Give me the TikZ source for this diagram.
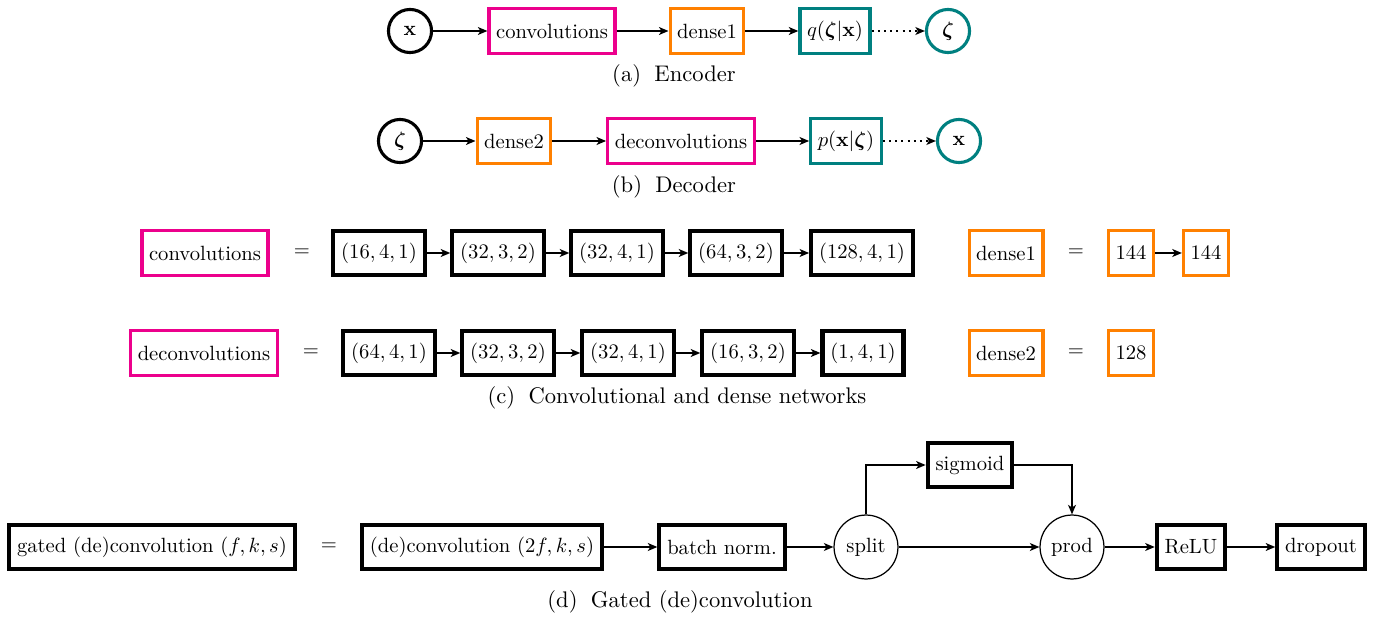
\documentclass[tikz,border=0pt]{standalone}
\usepackage{bm}
\usetikzlibrary{arrows.meta}
\definecolor{pinkc}{RGB}{236,0,140}
\definecolor{orangec}{RGB}{255,128,0}
\definecolor{tealc}{RGB}{0,128,128}
\begin{document}
\begin{tikzpicture}[x=0.485pt,y=-0.485pt,
  box/.style={draw, line width=2pt, minimum height=21.3pt, inner xsep=3.8pt, inner ysep=0pt},
  cbox/.style={draw=#1, line width=1.6pt, minimum height=21.7pt, inner xsep=3.4pt, inner ysep=0pt},
  circ/.style={circle, draw, line width=1.5pt, minimum size=20.9pt, inner sep=0pt},
  rnd/.style={circle, draw, line width=0.6pt, minimum size=31pt, inner sep=0pt},
  arr/.style={-{Stealth[length=4.6pt,width=3.8pt,inset=1.2pt]}, line width=1pt},
  darr/.style={arr, dotted},
  capt/.style={inner sep=0pt, font=\fontsize{10.95}{13.6}\selectfont}
]
\useasboundingbox (0,0) rectangle (1391,618);
% (a) Encoder
\node[circ] (ax) at (410,31) {$\mathbf{x}$};
\node[cbox=pinkc] (aconv) at (552,31) {convolutions};
\node[cbox=orangec] (ad1) at (707,31) {dense1};
\node[cbox=tealc] (aq) at (835,31) {$q(\bm{\zeta}|\mathbf{x})$};
\node[circ, draw=tealc] (az) at (948,31) {$\bm{\zeta}$};
\draw[arr] (ax) -- (aconv);
\draw[arr] (aconv) -- (ad1);
\draw[arr] (ad1) -- (aq);
\draw[darr] (aq) -- (az);
\node[capt] (capa) at (674,76) {(a)\hspace{6.5pt}Encoder};
% (b) Decoder
\node[circ] (bz) at (400,141) {$\bm{\zeta}$};
\node[cbox=orangec] (bd2) at (514,141) {dense2};
\node[cbox=pinkc] (bdec) at (681,141) {deconvolutions};
\node[cbox=tealc] (bp) at (846,141) {$p(\mathbf{x}|\bm{\zeta})$};
\node[circ, draw=tealc] (bx) at (959,141) {$\mathbf{x}$};
\draw[arr] (bz) -- (bd2);
\draw[arr] (bd2) -- (bdec);
\draw[arr] (bdec) -- (bp);
\draw[darr] (bp) -- (bx);
\node[capt] (capb) at (674,187) {(b)\hspace{6.5pt}Decoder};
% (c) row 1
\node[cbox=pinkc] (cconv) at (205,253) {convolutions};
\node (eq1) at (302,253) {$=$};
\node[box] (c1) at (379,253) {$(16,4,1)$};
\node[box] (c2) at (498,253) {$(32,3,2)$};
\node[box] (c3) at (617,253) {$(32,4,1)$};
\node[box] (c4) at (736,253) {$(64,3,2)$};
\node[box] (c5) at (862,253) {$(128,4,1)$};
\draw[arr] (c1) -- (c2);
\draw[arr] (c2) -- (c3);
\draw[arr] (c3) -- (c4);
\draw[arr] (c4) -- (c5);
\node[cbox=orangec] (cd1) at (1006,253) {dense1};
\node (eq2) at (1076,253) {$=$};
\node[cbox=orangec] (e1) at (1131,253) {144};
\node[cbox=orangec] (e2) at (1206,253) {144};
\draw[arr] (e1) -- (e2);
% (c) row 2
\node[cbox=pinkc] (cdec) at (204,353) {deconvolutions};
\node (eq3) at (311,353) {$=$};
\node[box] (d1) at (389,353) {$(64,4,1)$};
\node[box] (d2) at (508,353) {$(32,3,2)$};
\node[box] (d3) at (628,353) {$(32,4,1)$};
\node[box] (d4) at (748,353) {$(16,3,2)$};
\node[box] (d5) at (863,353) {$(1,4,1)$};
\draw[arr] (d1) -- (d2);
\draw[arr] (d2) -- (d3);
\draw[arr] (d3) -- (d4);
\draw[arr] (d4) -- (d5);
\node[cbox=orangec] (cd2) at (1006,353) {dense2};
\node (eq4) at (1076,353) {$=$};
\node[cbox=orangec] (f1) at (1131,353) {128};
\node[capt] (capc) at (677,398) {(c)\hspace{6.5pt}Convolutional and dense networks};
% (d) gated
\node[box] (gated) at (152,547) {gated (de)convolution $(f,k,s)$};
\node (eq5) at (329,547) {$=$};
\node[box] (dconv) at (482,547) {(de)convolution $(2f,k,s)$};
\node[box] (bn) at (722,547) {batch norm.};
\node[rnd] (split) at (866,547) {split};
\node[box] (sig) at (970,465) {sigmoid};
\node[rnd] (prod) at (1072,547) {prod};
\node[box] (relu) at (1191,547) {ReLU};
\node[box] (drop) at (1321,547) {dropout};
\draw[arr] (dconv) -- (bn);
\draw[arr] (bn) -- (split);
\draw[arr] (split.north) |- (sig.west);
\draw[arr] (sig.east) -| (prod.north);
\draw[arr] (split) -- (prod);
\draw[arr] (prod) -- (relu);
\draw[arr] (relu) -- (drop);
\node[capt] (capd) at (680,602) {(d)\hspace{6.5pt}Gated (de)convolution};
\end{tikzpicture}
\end{document}
